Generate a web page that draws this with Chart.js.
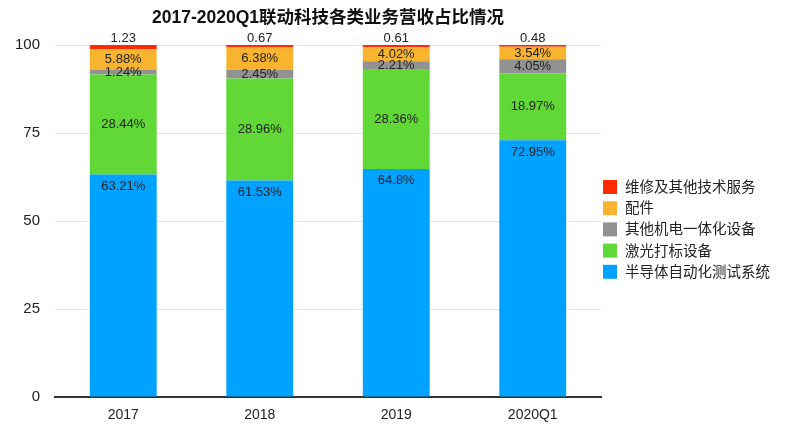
<!DOCTYPE html>
<html>
<head>
<meta charset="utf-8">
<script src="https://cdn.jsdelivr.net/npm/chart.js@4"></script>
<style>
  html, body { margin: 0; padding: 0; background: #fff; }
  #wrap { width: 800px; height: 444px; position: relative; }
</style>
</head>
<body>
<div id="wrap"><canvas id="barChart"></canvas></div>
<script>
const categories = ['2017', '2018', '2019', '2020Q1'];
const semiconductorTest = [63.21, 61.53, 64.8, 72.95];
const laserMarking = [28.44, 28.96, 28.36, 18.97];
const otherMechatronic = [1.24, 2.45, 2.21, 4.05];
const accessories = [5.88, 6.38, 4.02, 3.54];
const repairServices = [1.23, 0.67, 0.61, 0.48];
const yTicks = [0, 25, 50, 75, 100];

const chartTitle = '2017-2020Q1联动科技各类业务营收占比情况';
const FONT = '"Liberation Sans", "Noto Sans CJK SC", sans-serif';

// labels: 'top' = near top of segment, 'center', 'above' = above the bar without %
const datasets = [
    { label: '半导体自动化测试系统', data: semiconductorTest, backgroundColor: '#00A2FF', labelPos: 'top' },
    { label: '激光打标设备', data: laserMarking, backgroundColor: '#61D836', labelPos: 'center' },
    { label: '其他机电一体化设备', data: otherMechatronic, backgroundColor: '#929292', labelPos: 'center' },
    { label: '配件', data: accessories, backgroundColor: '#F9B42F', labelPos: 'center' },
    { label: '维修及其他技术服务', data: repairServices, backgroundColor: '#FF2A00', labelPos: 'above' }
];

const labelPlugin = {
    id: 'segmentLabels',
    afterDatasetsDraw(chart) {
        const ctx = chart.ctx;
        ctx.save();
        ctx.font = '13px ' + FONT;
        ctx.fillStyle = '#222';
        ctx.textAlign = 'center';
        ctx.textBaseline = 'middle';
        chart.data.datasets.forEach((ds, di) => {
            const meta = chart.getDatasetMeta(di);
            meta.data.forEach((bar, i) => {
                const v = ds.data[i];
                let y;
                let text = v + '%';
                if (ds.labelPos === 'top') y = bar.y + 12;
                else if (ds.labelPos === 'above') { y = bar.y - 7; text = String(v); }
                else y = (bar.y + bar.base) / 2;
                ctx.fillText(text, bar.x, y);
            });
        });
        ctx.restore();
    }
};

const titleLegendPlugin = {
    id: 'titleLegend',
    afterDraw(chart) {
        const ctx = chart.ctx;
        const area = chart.chartArea;
        ctx.save();
        ctx.font = 'bold 17.5px ' + FONT;
        ctx.fillStyle = '#111';
        ctx.textAlign = 'center';
        ctx.textBaseline = 'middle';
        ctx.fillText(chartTitle, (area.left + area.right) / 2, 18);

        ctx.font = '14.5px ' + FONT;
        ctx.textAlign = 'left';
        const items = chart.data.datasets.slice().reverse();
        items.forEach((ds, k) => {
            const y = 187 + k * 21.2;
            ctx.fillStyle = ds.backgroundColor;
            ctx.fillRect(603, y - 7, 14, 14);
            ctx.fillStyle = '#222';
            ctx.fillText(ds.label, 625, y + 1);
        });
        ctx.restore();
    }
};

const ctx = document.getElementById('barChart').getContext('2d');
new Chart(ctx, {
    type: 'bar',
    data: {
        labels: categories,
        datasets: datasets.map(d => ({
            label: d.label,
            data: d.data,
            backgroundColor: d.backgroundColor,
            labelPos: d.labelPos,
            borderWidth: 0,
            barPercentage: 0.49,
            categoryPercentage: 1.0
        }))
    },
    options: {
        responsive: true,
        maintainAspectRatio: false,
        animation: false,
        layout: { padding: { top: 45, right: 199, left: 0, bottom: 0 } },
        plugins: {
            legend: { display: false },
            title: { display: false },
            tooltip: { enabled: false }
        },
        scales: {
            x: {
                stacked: true,
                grid: { display: false, drawTicks: false },
                border: { color: '#333', width: 2 },
                ticks: { color: '#222', font: { size: 14, family: FONT }, padding: 10 },
                afterFit: s => { s.height = 47; }
            },
            y: {
                stacked: true,
                min: 0,
                max: 100,
                afterBuildTicks: s => { s.ticks = yTicks.map(v => ({ value: v })); },
                grid: { color: '#e2e2e2', drawTicks: false },
                border: { display: false },
                ticks: { color: '#222', font: { size: 15, family: FONT }, padding: 15 },
                afterFit: s => { s.width = 55; }
            }
        }
    },
    plugins: [labelPlugin, titleLegendPlugin]
});
</script>
</body>
</html>
